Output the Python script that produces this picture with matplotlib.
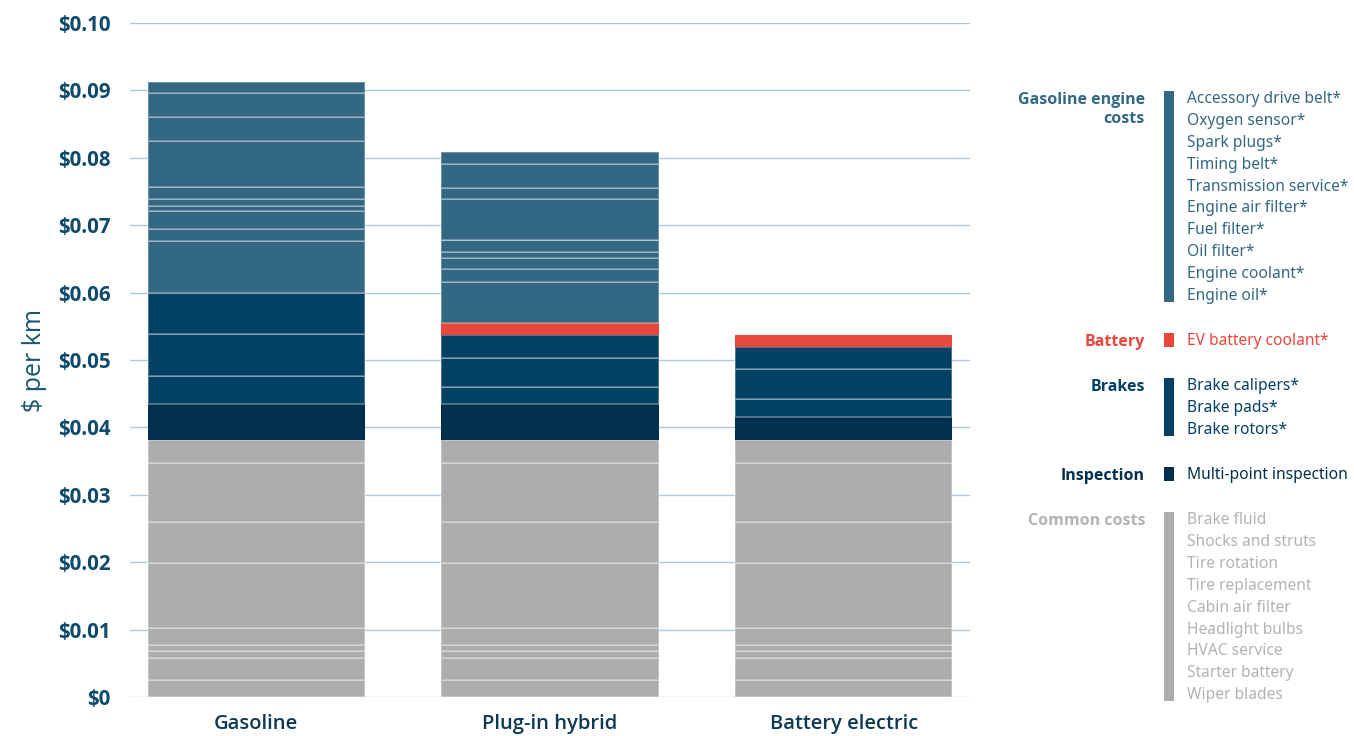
import numpy as np
import matplotlib
matplotlib.use('Agg')
import matplotlib.pyplot as plt
from matplotlib.patches import Rectangle

plt.rcParams['font.family'] = ['Noto Sans', 'DejaVu Sans']
BOLD = ['Open Sans', 'DejaVu Sans']

# data ($ per km), stacked bottom -> top
vehicles = ['Gasoline', 'Plug-in hybrid', 'Battery electric']

common_items = ['Wiper blades', 'Starter battery', 'HVAC service', 'Headlight bulbs',
                'Cabin air filter', 'Tire replacement', 'Tire rotation',
                'Shocks and struts', 'Brake fluid']
common_vals = [0.00248, 0.00335, 0.00095, 0.00089, 0.00261, 0.00956, 0.00608, 0.00875, 0.00346]

inspection_vals = [0.00530, 0.00530, 0.00346]

brake_items = ['Brake rotors*', 'Brake pads*', 'Brake calipers*']
brakes_gas = [0.00424, 0.00614, 0.00613]
brakes_phev = [0.00252, 0.00439, 0.00341]
brakes_bev = [0.00267, 0.00436, 0.00335]

battery_vals = [0.0, 0.00174, 0.00189]

engine_items = ['Engine oil*', 'Engine coolant*', 'Oil filter*', 'Fuel filter*',
                'Engine air filter*', 'Transmission service*', 'Timing belt*',
                'Spark plugs*', 'Oxygen sensor*', 'Accessory drive belt*']
engine_gas = [0.00776, 0.00178, 0.00258, 0.00083, 0.00100, 0.00173, 0.00687, 0.00352, 0.00356, 0.00168]
engine_phev = [0.00613, 0.00184, 0.00167, 0.00085, 0.00178, 0.0, 0.00608, 0.00172, 0.00348, 0.00178]
engine_bev = [0.0] * 10

yticks = np.arange(0, 0.101, 0.01)
ytick_labels = ['$0'] + ['$%.2f' % v for v in yticks[1:]]

C_ENGINE = '#336882'
C_BRAKES = '#024064'
C_INSP = '#00304d'
C_BATT = '#e8473e'
C_COMMON = '#adadad'
EDGE = (1, 1, 1, 0.35)

W, H = 1354, 736
fig = plt.figure(figsize=(W / 100, H / 100), dpi=100)
ax = fig.add_axes([130 / W, (H - 697) / H, 840 / W, 674 / H])

x = np.arange(len(vehicles))
bw = 0.74
bottom = np.zeros(len(vehicles))

def stack(vals, color, edge=True):
    global bottom
    vals = np.asarray(vals)
    ax.bar(x, vals, bw, bottom=bottom, color=color,
           edgecolor=EDGE if edge else color, linewidth=1.2 if edge else 0, zorder=3)
    bottom = bottom + vals

for v in common_vals:
    stack([v, v, v], C_COMMON)
stack(inspection_vals, C_INSP, edge=False)
for i in range(3):
    stack([brakes_gas[i], brakes_phev[i], brakes_bev[i]], C_BRAKES)
stack(battery_vals, C_BATT, edge=False)
for i in range(10):
    stack([engine_gas[i], engine_phev[i], engine_bev[i]], C_ENGINE)

ax.set_xlim(-0.43, 2.43)
ax.set_ylim(0, 0.1)
ax.set_yticks(yticks)
ax.set_yticklabels(ytick_labels, fontsize=14.8, fontweight='bold', color='#0e4a6c', family=BOLD)
ax.set_xticks(x)
ax.set_xticklabels(vehicles, fontsize=14.5, fontweight='semibold', color='#0b3954', family=BOLD)
ax.tick_params(axis='x', length=0, pad=12)
ax.tick_params(axis='y', length=0, pad=14)
for s in ax.spines.values():
    s.set_visible(False)
ax.yaxis.grid(True, color='#a9c9dc', linewidth=1, zorder=0)
ax.set_axisbelow(True)
ax.set_ylabel('$ per km', fontsize=18, color='#175575', labelpad=8, family=BOLD,
              fontweight='medium')

# legend drawn in pixel coords
lg = fig.add_axes([0, 0, 1, 1])
lg.set_xlim(0, W)
lg.set_ylim(H, 0)
lg.axis('off')

groups = [
    ('Gasoline engine\ncosts', C_ENGINE, C_ENGINE, engine_items[::-1], 98),
    ('Battery', C_BATT, C_BATT, ['EV battery coolant*'], 340),
    ('Brakes', C_BRAKES, C_BRAKES, brake_items[::-1], 385),
    ('Inspection', C_INSP, C_INSP, ['Multi-point inspection'], 474),
    ('Common costs', '#b3b3b3', C_COMMON, common_items[::-1], 519),
]
step = 21.9
for title, tcol, bcol, items, y0 in groups:
    lg.text(1145, y0 - 6, title, ha='right', va='top', fontsize=11.5,
            fontweight='bold', color=tcol, linespacing=1.25, family=BOLD)
    n = len(items)
    lg.add_patch(Rectangle((1164, y0 - 7), 10, (n - 1) * step + 14, color=bcol, lw=0))
    for k, it in enumerate(items):
        lg.text(1187, y0 + 1 + k * step, it, ha='left', va='center', fontsize=11.2, color=tcol)

fig.savefig('out.png', dpi=100)
